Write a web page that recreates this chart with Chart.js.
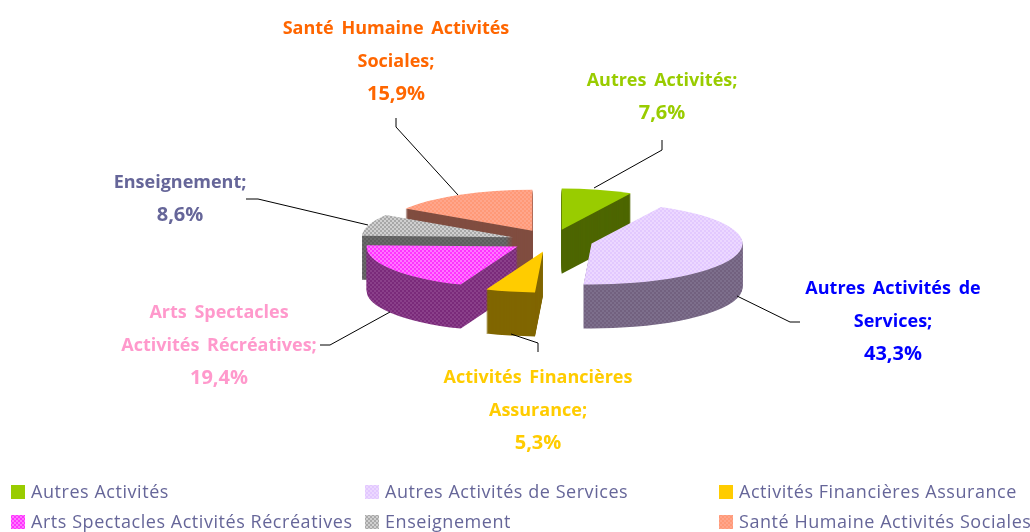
<!DOCTYPE html>
<html>
<head>
<meta charset="utf-8">
<style>
  html, body { margin: 0; padding: 0; background: #fff; }
  canvas { display: block; }
</style>
<script src="https://cdn.jsdelivr.net/npm/chart.js@4/dist/chart.umd.min.js"></script>
</head>
<body>
<canvas id="chart-1" width="1030" height="532"></canvas>
<script>
const categories = ['Autres Activités', 'Autres Activités de Services', 'Activités Financières Assurance',
  'Arts Spectacles Activités Récréatives', 'Enseignement', 'Santé Humaine Activités Sociales'];
const shares = [7.6, 43.3, 5.3, 19.4, 8.6, 15.9];
const shareLabels = ['7,6%', '43,3%', '5,3%', '19,4%', '8,6%', '15,9%'];

// how the callouts break over lines
const labelLines = [
  ['Autres Activités;'],
  ['Autres Activités de', 'Services;'],
  ['Activités Financières', 'Assurance;'],
  ['Arts Spectacles', 'Activités Récréatives;'],
  ['Enseignement;'],
  ['Santé Humaine Activités', 'Sociales;']
];
const labelColors = ['#99cc00', '#0000ff', '#ffcc00', '#ff99cc', '#666699', '#ff6600'];
const labelX = [662, 893, 538, 219, 180, 396];
const labelY = [81, 289, 378, 313, 183, 29];
const leaders = [
  [[594, 188], [662, 150], [662, 140]],
  [[737, 296], [790, 322], [800, 322]],
  [[511, 334], [538, 343], [538, 352]],
  [[390, 312], [330, 345], [320, 345]],
  [[368, 225], [258, 199], [246, 199]],
  [[458, 195], [396, 127], [396, 118]]
];

// back to front, as the slices overlap
const paintOrder = [5, 4, 3, 2, 0, 1];
const explode = 41;
const flatten = 0.272;
const depth = 44;

function dither(a, b) {
  const c = document.createElement('canvas');
  c.width = c.height = 4;
  const g = c.getContext('2d');
  g.fillStyle = a;
  g.fillRect(0, 0, 4, 4);
  g.fillStyle = b;
  g.fillRect(0, 0, 2, 2);
  g.fillRect(2, 2, 2, 2);
  return g.createPattern(c, 'repeat');
}

const ctx0 = document.getElementById('chart-1').getContext('2d');
const topFills = ['#99cc00', dither('#e2c8ff', '#ecd8ff'), '#ffcc00', dither('#ff33ff', '#ff77ff'),
  dither('#a8a8a8', '#d0d0d0'), dither('#ff9977', '#ffa68c')];
const sideFills = ['#4d6600', dither('#72617f', '#7d6f8c'), '#806600', dither('#7a2a7a', '#8a408a'),
  dither('#5c5c5c', '#6c6c6c'), '#804d40'];

function paintSlice(ctx, arc, fill, dy) {
  const mid = (arc.startAngle + arc.endAngle) / 2;
  ctx.save();
  ctx.translate(arc.x, arc.y + dy);
  ctx.scale(1, flatten);
  ctx.translate(-arc.x, -arc.y);
  ctx.translate(Math.cos(mid) * explode, Math.sin(mid) * explode);
  if (fill instanceof CanvasPattern) {
    fill.setTransform(ctx.getTransform().inverse());
  }
  const saved = arc.options;
  arc.options = Object.assign({}, saved, { backgroundColor: fill, borderWidth: 0 });
  arc.draw(ctx);
  arc.options = saved;
  ctx.restore();
}

const pie3d = {
  id: 'pie3d',
  beforeDatasetDraw(chart, args) {
    const ctx = chart.ctx;
    const arcs = chart.getDatasetMeta(args.index).data;
    paintOrder.forEach(i => {
      for (let dy = depth; dy > 0; dy--) {
        paintSlice(ctx, arcs[i], sideFills[i], dy);
      }
      paintSlice(ctx, arcs[i], topFills[i], 0);
    });
    return false;
  },
  afterDraw(chart) {
    const ctx = chart.ctx;
    ctx.save();
    ctx.textBaseline = 'middle';

    // leader lines
    ctx.strokeStyle = '#000';
    ctx.lineWidth = 1;
    leaders.forEach(pts => {
      ctx.beginPath();
      pts.forEach((p, i) => i ? ctx.lineTo(p[0], p[1]) : ctx.moveTo(p[0], p[1]));
      ctx.stroke();
    });

    // callouts
    ctx.textAlign = 'center';
    ctx.wordSpacing = '3px';
    labelLines.forEach((lines, i) => {
      ctx.fillStyle = labelColors[i];
      ctx.font = 'bold 18px "Open Sans"';
      lines.forEach((t, n) => ctx.fillText(t, labelX[i], labelY[i] + n * 32.5));
      ctx.font = 'bold 20px "Open Sans"';
      ctx.fillText(shareLabels[i], labelX[i], labelY[i] + lines.length * 32.5);
    });

    // legend, three columns, two rows
    ctx.textAlign = 'left';
    ctx.font = '18px "Open Sans"';
    ctx.wordSpacing = '0px';
    ctx.letterSpacing = '0.55px';
    categories.forEach((name, i) => {
      const col = i % 3, row = Math.floor(i / 3);
      const x = [11, 365, 719][col], y = [492, 522][row];
      const fill = topFills[i];
      if (fill instanceof CanvasPattern) fill.setTransform(new DOMMatrix());
      ctx.fillStyle = fill;
      ctx.fillRect(x, y - 7, 14, 14);
      ctx.fillStyle = '#666699';
      ctx.fillText(name, x + 20, y + 1);
    });
    ctx.restore();
  }
};

new Chart(ctx0, {
  type: 'pie',
  data: {
    labels: categories,
    datasets: [{ data: shares, backgroundColor: topFills, borderWidth: 0 }]
  },
  options: {
    responsive: false,
    animation: false,
    layout: { padding: { left: 401, right: 327, top: 89.5, bottom: 140.5 } },
    plugins: { legend: { display: false }, tooltip: { enabled: false } }
  },
  plugins: [pie3d]
});
</script>
</body>
</html>
